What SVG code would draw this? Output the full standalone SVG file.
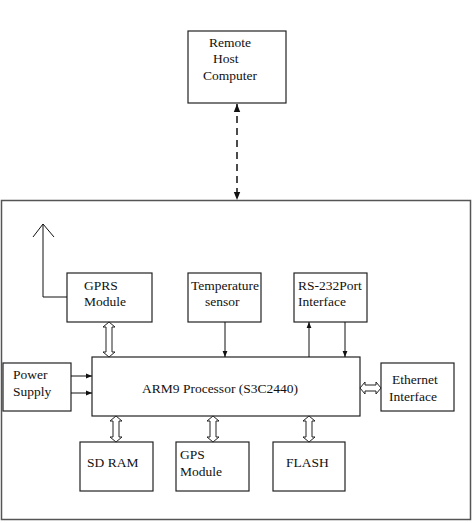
<svg xmlns="http://www.w3.org/2000/svg" width="474" height="523" viewBox="0 0 474 523" font-family="Liberation Serif" font-size="13.5">
<style>
.box{fill:#fff;stroke:#222;stroke-width:1.2}
.t{fill:#111}
.ln{stroke:#111;stroke-width:1;fill:none}
.dbl{fill:#fff;stroke:#222;stroke-width:1}
</style>
<defs>
<marker id="ah" viewBox="0 0 10 10" refX="10" refY="5" markerWidth="6" markerHeight="6" orient="auto-start-reverse" markerUnits="userSpaceOnUse">
<path d="M0,1 L10,5 L0,9 z" fill="#111"/>
</marker>
<marker id="ah2" viewBox="0 0 10 10" refX="10" refY="5" markerWidth="8" markerHeight="8" orient="auto-start-reverse" markerUnits="userSpaceOnUse">
<path d="M0,1 L10,5 L0,9 z" fill="#111"/>
</marker>
</defs>
<rect width="474" height="523" fill="#fff"/>
<g id="system"><rect x="1.5" y="200.5" width="469" height="319" fill="none" stroke="#555" stroke-width="1.5"/></g>
<g id="remote"><rect class="box" x="188" y="31" width="98" height="72"/>
<text class="t" x="209" y="47">Remote</text><text class="t" x="213" y="63">Host</text><text class="t" x="203" y="80">Computer</text></g>
<g id="gprs"><rect class="box" x="67" y="273" width="85" height="49"/>
<text class="t" x="84" y="290">GPRS</text><text class="t" x="84" y="306">Module</text></g>
<g id="temp"><rect class="box" x="188" y="273" width="73" height="49"/>
<text class="t" x="191" y="290">Temperature</text><text class="t" x="205" y="306">sensor</text></g>
<g id="rs232"><rect class="box" x="294" y="273" width="73" height="49"/>
<text class="t" x="298" y="290">RS-232Port</text><text class="t" x="298" y="306">Interface</text></g>
<g id="power"><rect class="box" x="3" y="363" width="68" height="48"/>
<text class="t" x="13" y="379">Power</text><text class="t" x="13" y="396">Supply</text></g>
<g id="arm"><rect class="box" x="92" y="357" width="268" height="59"/>
<text class="t" x="142" y="393">ARM9 Processor (S3C2440)</text></g>
<g id="ethernet"><rect class="box" x="381" y="363" width="73" height="48"/>
<text class="t" x="392" y="384">Ethernet</text><text class="t" x="389" y="401">Interface</text></g>
<g id="sdram"><rect class="box" x="80" y="442" width="73" height="49"/>
<text class="t" x="87" y="467">SD RAM</text></g>
<g id="gps"><rect class="box" x="176" y="442" width="73" height="49"/>
<text class="t" x="180" y="459">GPS</text><text class="t" x="180" y="476">Module</text></g>
<g id="flash"><rect class="box" x="273" y="442" width="72" height="49"/>
<text class="t" x="286" y="467">FLASH</text></g>
<g id="connectors">
<line x1="237" y1="104" x2="237" y2="200" stroke="#111" stroke-width="1.5" stroke-dasharray="7,5" marker-start="url(#ah2)" marker-end="url(#ah2)"/>
<polyline class="ln" points="67,297 43,297 43,224"/>
<polyline class="ln" points="33,237 43,224 54,237"/>
<line class="ln" x1="225" y1="322" x2="225" y2="357" marker-end="url(#ah)"/>
<line class="ln" x1="309" y1="357" x2="309" y2="322" marker-end="url(#ah)"/>
<line class="ln" x1="345" y1="322" x2="345" y2="357" marker-end="url(#ah)"/>
<line class="ln" x1="71" y1="376" x2="92" y2="376" marker-end="url(#ah)"/>
<line class="ln" x1="71" y1="393" x2="92" y2="393" marker-end="url(#ah)"/>
<path class="dbl" d="M109,322 L115,327 L112,327 L112,352 L115,352 L109,357 L103,352 L106,352 L106,327 L103,327 Z"/>
<path class="dbl" d="M116,416 L122,421 L119,421 L119,437 L122,437 L116,442 L110,437 L113,437 L113,421 L110,421 Z"/>
<path class="dbl" d="M213,416 L219,421 L216,421 L216,437 L219,437 L213,442 L207,437 L210,437 L210,421 L207,421 Z"/>
<path class="dbl" d="M309,416 L315,421 L312,421 L312,437 L315,437 L309,442 L303,437 L306,437 L306,421 L303,421 Z"/>
<path class="dbl" d="M360,388 L365,382 L365,385 L376,385 L376,382 L381,388 L376,394 L376,391 L365,391 L365,394 Z"/>
</g>
</svg>
